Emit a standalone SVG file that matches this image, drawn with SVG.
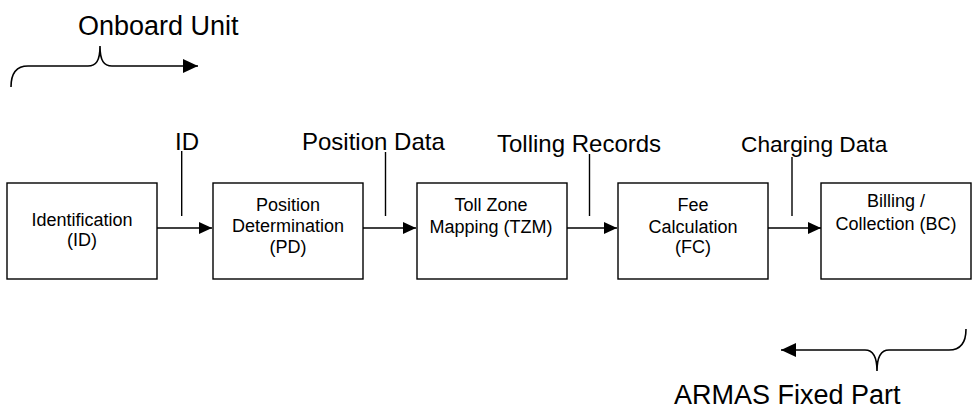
<svg xmlns="http://www.w3.org/2000/svg" width="976" height="416" viewBox="0 0 976 416">
<style>
.box{fill:#fff;stroke:#000;stroke-width:1.4}
.ln{fill:none;stroke:#000;stroke-width:1.4}
.br{fill:none;stroke:#000;stroke-width:1.6}
.t{font-family:"Liberation Sans",Arial,sans-serif;fill:#000}
.bt{font-size:18px;text-anchor:middle}
.lb{font-size:24px}
.big{font-size:27px}
</style>
<defs>
<marker id="ah" markerWidth="13" markerHeight="12" refX="13" refY="6" orient="auto" markerUnits="userSpaceOnUse">
<path d="M0,0 L13,6 L0,12 Z" fill="#000"/>
</marker>
<marker id="ah2" markerWidth="15" markerHeight="14" refX="15" refY="7" orient="auto" markerUnits="userSpaceOnUse">
<path d="M0,0 L15,7 L0,14 Z" fill="#000"/>
</marker>
</defs>
<rect width="976" height="416" fill="#fff"/>
<g id="connectors">
<line class="ln" x1="157" y1="228" x2="212" y2="228" marker-end="url(#ah)"/>
<line class="ln" x1="363" y1="228" x2="416" y2="228" marker-end="url(#ah)"/>
<line class="ln" x1="567" y1="228" x2="617" y2="228" marker-end="url(#ah)"/>
<line class="ln" x1="768" y1="228" x2="821" y2="228" marker-end="url(#ah)"/>
<line class="ln" x1="181.7" y1="151" x2="181.7" y2="216"/>
<line class="ln" x1="385.5" y1="152" x2="385.5" y2="216"/>
<line class="ln" x1="589.5" y1="154" x2="589.5" y2="216"/>
<line class="ln" x1="792" y1="157" x2="792" y2="216"/>
<path class="br" d="M11,87 C11,74 16,66 28,66 L88,66 C96,66 100,61 100,46 C100,61 104,66 112,66 L198,66" marker-end="url(#ah2)"/>
<path class="br" d="M966,329 C966,342 961,350 949,350 L889,350 C881,350 877,356 877,371 C877,356 873,350 865,350 L781,350" marker-end="url(#ah2)"/>
</g>
<g id="labels">
<text class="t big" x="78" y="35">Onboard Unit</text>
<text class="t big" x="674" y="404">ARMAS Fixed Part</text>
<text class="t lb" x="175" y="149.5">ID</text>
<text class="t lb" x="302" y="150">Position Data</text>
<text class="t lb" x="497" y="151.5">Tolling Records</text>
<text class="t lb" x="741" y="152" style="font-size:22.7px">Charging Data</text>
</g>
<g id="node-id">
<rect class="box" x="7" y="183" width="150" height="96"/>
<text class="t bt" x="82" y="225.5">Identification</text>
<text class="t bt" x="82" y="245.5">(ID)</text>
</g>
<g id="node-pd">
<rect class="box" x="213" y="183" width="150" height="96"/>
<text class="t bt" x="288" y="210.7">Position</text>
<text class="t bt" x="288" y="231.7">Determination</text>
<text class="t bt" x="288" y="252.5">(PD)</text>
</g>
<g id="node-tzm">
<rect class="box" x="417" y="183" width="150" height="96"/>
<text class="t bt" x="491" y="210.7">Toll Zone</text>
<text class="t bt" x="491" y="232.5">Mapping (TZM)</text>
</g>
<g id="node-fc">
<rect class="box" x="618" y="183" width="150" height="96"/>
<text class="t bt" x="693" y="210.7">Fee</text>
<text class="t bt" x="693" y="232.5">Calculation</text>
<text class="t bt" x="693" y="253">(FC)</text>
</g>
<g id="node-bc">
<rect class="box" x="821" y="183" width="150" height="96"/>
<text class="t bt" x="896" y="207">Billing /</text>
<text class="t bt" x="896" y="230">Collection (BC)</text>
</g>
</svg>
